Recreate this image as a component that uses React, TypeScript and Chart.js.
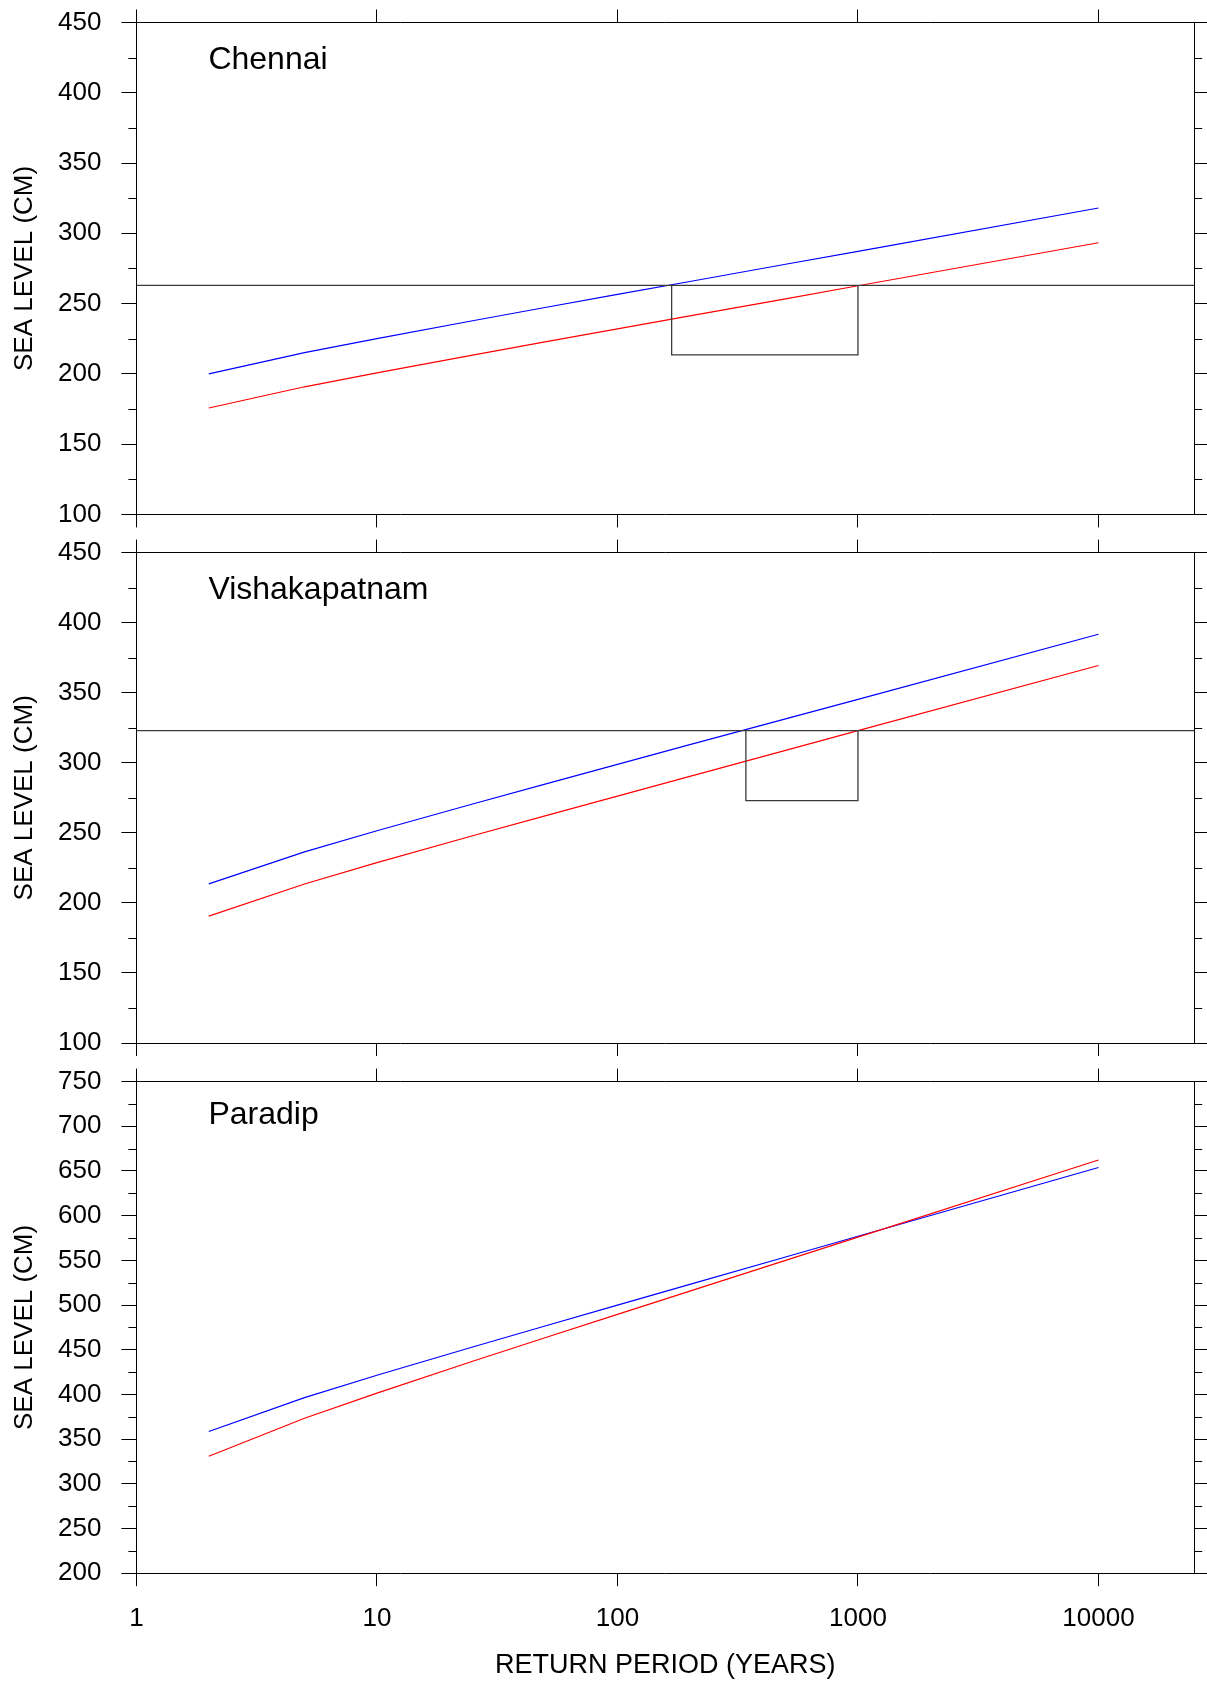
import React, { useEffect, useRef } from 'react';
import { Chart, registerables } from 'chart.js';

Chart.register(...registerables);

// ---------------- data ----------------
const returnPeriods = [2, 5, 10, 25, 50, 100, 200, 500, 1000, 10000];

const chennaiBlue = [200.0, 215.1, 225.1, 237.8, 247.2, 256.5, 265.7, 278.0, 287.2, 318.0];
const chennaiRed = [175.7, 190.8, 200.7, 213.3, 222.7, 232.0, 241.2, 253.4, 262.7, 293.3];

const vizagBlue = [213.6, 236.4, 251.5, 270.6, 284.8, 298.8, 312.9, 331.3, 345.3, 391.7];
const vizagRed = [190.6, 213.5, 228.7, 247.9, 262.1, 276.2, 290.3, 308.8, 322.9, 369.4];

const paradipBlue = [358.5, 396.4, 421.5, 453.1, 476.6, 499.9, 523.2, 553.8, 577.0, 653.9];
const paradipRed = [330.9, 373.4, 401.5, 437.1, 463.4, 489.6, 515.6, 550.0, 576.0, 662.3];

// reference level and box (return periods where lines cross the level)
const chennaiLevel = 263;
const chennaiBoxX = [168, 1000];
const chennaiBoxBottom = 213.5;

const vizagLevel = 323;
const vizagBoxX = [342, 1000];
const vizagBoxBottom = 273;

const xTickValues = [1, 10, 100, 1000, 10000];
const xRange = [1, 25000];
const chennaiYRange = [100, 450];
const vizagYRange = [100, 450];
const paradipYRange = [200, 750];
const yStep = 50;
const yMinorStep = 25;

const panelNames = ['Chennai', 'Vishakapatnam', 'Paradip'];
const yTitle = 'SEA LEVEL (CM)';
const xTitle = 'RETURN PERIOD (YEARS)';

// ---------------- styling / layout ----------------
const FONT = '"Liberation Sans", Arial, Helvetica, sans-serif';
const AXIS_LEFT = 136.4;
const AXIS_RIGHT_W = 1207 - 1194.2;

type PanelCfg = {
  name: string;
  blue: number[];
  red: number[];
  yRange: number[];
  level?: number;
  boxX?: number[];
  boxBottom?: number;
  canvasTop: number;
  canvasHeight: number;
  topH: number;
  bottomH: number;
  titleBaseline: number;
  showX: boolean;
};

const panels: PanelCfg[] = [
  {
    name: panelNames[0], blue: chennaiBlue, red: chennaiRed, yRange: chennaiYRange,
    level: chennaiLevel, boxX: chennaiBoxX, boxBottom: chennaiBoxBottom,
    canvasTop: 0, canvasHeight: 534, topH: 22.5, bottomH: 534 - 514.4, titleBaseline: 46, showX: false,
  },
  {
    name: panelNames[1], blue: vizagBlue, red: vizagRed, yRange: vizagYRange,
    level: vizagLevel, boxX: vizagBoxX, boxBottom: vizagBoxBottom,
    canvasTop: 534, canvasHeight: 528, topH: 552.6 - 534, bottomH: 1062 - 1043, titleBaseline: 46, showX: false,
  },
  {
    name: panelNames[2], blue: paradipBlue, red: paradipRed, yRange: paradipYRange,
    canvasTop: 1062, canvasHeight: 622, topH: 1081.6 - 1062, bottomH: 1684 - 1573.2, titleBaseline: 42.3, showX: true,
  },
];

const toPts = (xs: number[], ys: number[]) => xs.map((x, i) => ({ x, y: ys[i] }));

const zeroPad = (s: any) => {
  s.paddingTop = 0;
  s.paddingBottom = 0;
  s.paddingLeft = 0;
  s.paddingRight = 0;
};

function PanelChart({ cfg }: { cfg: PanelCfg }) {
  const ref = useRef<HTMLCanvasElement | null>(null);

  useEffect(() => {
    if (!ref.current) return;
    const datasets: any[] = [];
    if (cfg.level !== undefined && cfg.boxX && cfg.boxBottom !== undefined) {
      datasets.push({
        data: [{ x: xRange[0], y: cfg.level }, { x: xRange[1], y: cfg.level }],
        borderColor: '#3a3a3a', borderWidth: 1.3, pointRadius: 0,
      });
      datasets.push({
        data: [
          { x: cfg.boxX[0], y: cfg.level },
          { x: cfg.boxX[0], y: cfg.boxBottom },
          { x: cfg.boxX[1], y: cfg.boxBottom },
          { x: cfg.boxX[1], y: cfg.level },
        ],
        borderColor: '#3a3a3a', borderWidth: 1.3, pointRadius: 0,
      });
    }
    datasets.push({
      data: toPts(returnPeriods, cfg.red),
      borderColor: '#ff0000', borderWidth: 1.2, pointRadius: 0,
    });
    datasets.push({
      data: toPts(returnPeriods, cfg.blue),
      borderColor: '#0000ff', borderWidth: 1.2, pointRadius: 0,
    });

    const minorTicks = {
      id: 'minorTicks',
      afterDraw(chart: any) {
        const { ctx, chartArea } = chart;
        const ys = chart.scales.y;
        ctx.save();
        ctx.strokeStyle = '#000';
        ctx.lineWidth = 1;
        for (let v = ys.min + yMinorStep; v < ys.max; v += yStep) {
          const py = Math.round(ys.getPixelForValue(v)) + 0.5;
          ctx.beginPath();
          ctx.moveTo(chartArea.left - 8, py);
          ctx.lineTo(chartArea.left, py);
          ctx.moveTo(chartArea.right, py);
          ctx.lineTo(chartArea.right + 8, py);
          ctx.stroke();
        }
        ctx.restore();
      },
    };

    const panelTitle = {
      id: 'panelTitle',
      afterDraw(chart: any) {
        const { ctx, chartArea } = chart;
        ctx.save();
        ctx.font = `32px ${FONT}`;
        ctx.fillStyle = '#000';
        ctx.textBaseline = 'alphabetic';
        ctx.textAlign = 'left';
        ctx.fillText(cfg.name, chartArea.left + 72, chartArea.top + cfg.titleBaseline);
        ctx.restore();
      },
    };

    const gridCommon = { drawOnChartArea: false, drawTicks: true, color: '#000', lineWidth: 1 };
    const borderCommon = { display: true, color: '#000', width: 1 };
    const setDecades = (s: any) => { s.ticks = xTickValues.map((v) => ({ value: v })); };

    const chart = new Chart(ref.current, {
      type: 'line',
      data: { datasets },
      plugins: [minorTicks, panelTitle],
      options: {
        animation: false,
        responsive: false,
        events: [],
        layout: { padding: 0, autoPadding: false },
        plugins: { legend: { display: false }, tooltip: { enabled: false } },
        scales: {
          x: {
            type: 'logarithmic', position: 'bottom', min: xRange[0], max: xRange[1],
            afterBuildTicks: setDecades,
            ticks: {
              display: cfg.showX, autoSkip: false, maxRotation: 0, padding: 17,
              color: '#000', font: { family: FONT, size: 26 },
              callback: (v: any) => String(v),
            },
            grid: { ...gridCommon, tickLength: 13 },
            border: borderCommon,
            title: {
              display: cfg.showX, text: xTitle, color: '#000',
              font: { family: FONT, size: 27 }, padding: { top: 0, bottom: 2 },
            },
            afterFit: (s: any) => { s.height = cfg.bottomH; zeroPad(s); },
          },
          xT: {
            type: 'logarithmic', axis: 'x', position: 'top', min: xRange[0], max: xRange[1],
            afterBuildTicks: setDecades,
            ticks: { display: false },
            grid: { ...gridCommon, tickLength: 13 },
            border: borderCommon,
            afterFit: (s: any) => { s.height = cfg.topH; zeroPad(s); },
          },
          y: {
            type: 'linear', position: 'left', min: cfg.yRange[0], max: cfg.yRange[1],
            ticks: { stepSize: yStep, padding: 20, color: '#000', font: { family: FONT, size: 26 } },
            grid: { ...gridCommon, tickLength: 15 },
            border: borderCommon,
            title: {
              display: true, text: yTitle, color: '#000',
              font: { family: FONT, size: 26 }, padding: { top: 9, bottom: 0 },
            },
            afterFit: (s: any) => { s.width = AXIS_LEFT; zeroPad(s); },
          },
          yR: {
            type: 'linear', axis: 'y', position: 'right', min: cfg.yRange[0], max: cfg.yRange[1],
            ticks: { stepSize: yStep, display: false },
            grid: { ...gridCommon, tickLength: 12.8 },
            border: borderCommon,
            afterFit: (s: any) => { s.width = AXIS_RIGHT_W; zeroPad(s); },
          },
        },
      } as any,
    });
    return () => chart.destroy();
  }, [cfg]);

  return (
    <canvas
      ref={ref}
      width={1207}
      height={cfg.canvasHeight}
      style={{ position: 'absolute', left: 0, top: cfg.canvasTop, width: 1207, height: cfg.canvasHeight }}
    />
  );
}

export default function App() {
  return (
    <div style={{ position: 'absolute', left: 0, top: 0, width: 1207, height: 1684, background: '#fff', overflow: 'hidden' }}>
      {panels.map((p) => (
        <PanelChart key={p.name} cfg={p} />
      ))}
    </div>
  );
}
